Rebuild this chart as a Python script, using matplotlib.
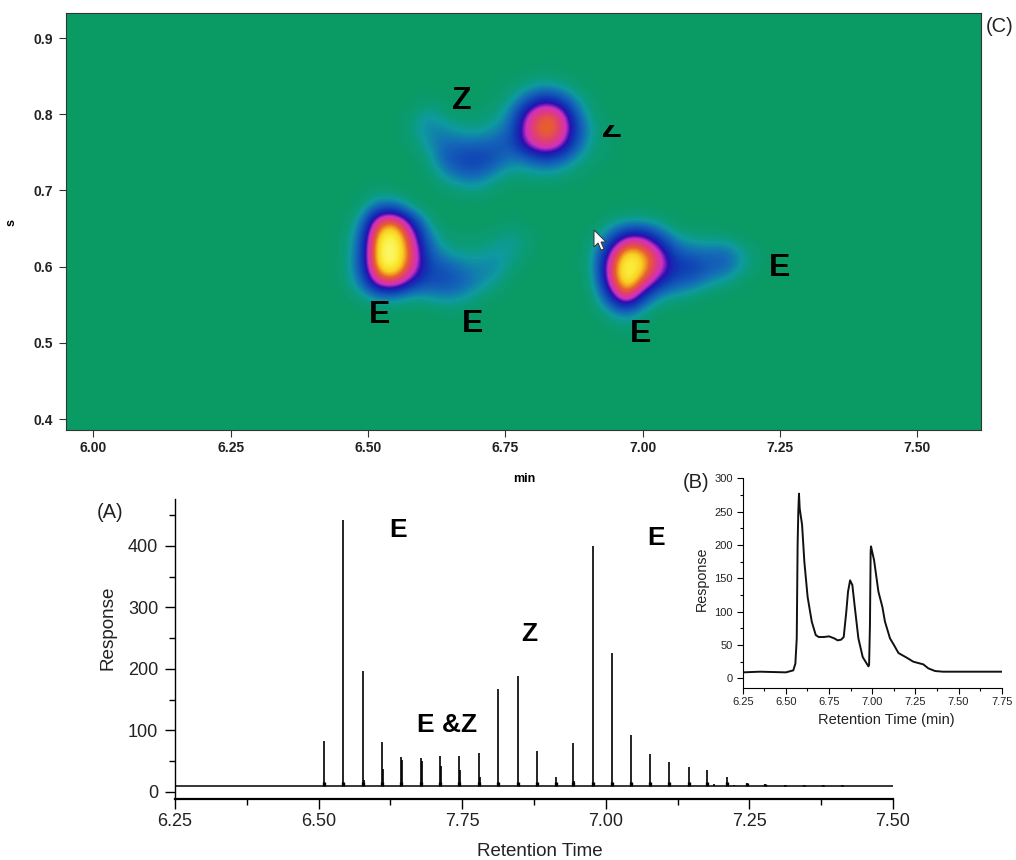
import matplotlib
matplotlib.use("Agg")
import matplotlib.pyplot as plt
import numpy as np
from matplotlib.colors import LinearSegmentedColormap
from matplotlib.patches import Polygon, Rectangle
from matplotlib.ticker import FixedLocator, MultipleLocator

plt.rcParams["font.family"] = ["Liberation Sans", "DejaVu Sans"]

W, H = 1016, 860

# (C) 2D map, read on a coarse grid, intensity in percent
map_times = [6.43, 6.46, 6.49, 6.52, 6.55, 6.58, 6.61, 6.64, 6.67, 6.70, 6.73, 6.76, 6.79, 6.82,
             6.85, 6.88, 6.91, 6.94, 6.97, 7.00, 7.03, 7.06, 7.09, 7.12, 7.15, 7.18, 7.21, 7.24, 7.27, 7.30]
map_s = [0.88, 0.86, 0.84, 0.82, 0.80, 0.78, 0.76, 0.74, 0.72, 0.70, 0.68, 0.66,
         0.64, 0.62, 0.60, 0.58, 0.56, 0.54, 0.52, 0.50, 0.48]
map_values = [
    [0, 0, 0, 0, 0, 0, 0, 0, 0, 0, 0, 0, 0, 0, 0, 0, 0, 0, 0, 0, 0, 0, 0, 0, 0, 0, 0, 0, 0, 0],
    [0, 0, 0, 0, 0, 0, 0, 0, 0, 0, 0, 0, 1, 2, 1, 0, 0, 0, 0, 0, 0, 0, 0, 0, 0, 0, 0, 0, 0, 0],
    [0, 0, 0, 0, 0, 0, 0, 0, 0, 0, 0, 3, 6, 10, 7, 3, 0, 0, 0, 0, 0, 0, 0, 0, 0, 0, 0, 0, 0, 0],
    [0, 0, 0, 0, 0, 0, 3, 0, 0, 0, 2, 8, 25, 42, 32, 12, 2, 0, 0, 0, 0, 0, 0, 0, 0, 0, 0, 0, 0, 0],
    [0, 0, 0, 0, 0, 4, 14, 6, 3, 3, 6, 18, 55, 76, 68, 25, 5, 0, 0, 0, 0, 0, 0, 0, 0, 0, 0, 0, 0, 0],
    [0, 0, 0, 0, 0, 7, 18, 16, 10, 9, 14, 25, 62, 80, 72, 34, 8, 3, 0, 0, 0, 0, 0, 0, 0, 0, 0, 0, 0, 0],
    [0, 0, 0, 0, 0, 3, 13, 24, 24, 24, 27, 28, 52, 68, 58, 26, 6, 3, 0, 0, 0, 0, 0, 0, 0, 0, 0, 0, 0, 0],
    [0, 0, 0, 0, 0, 0, 6, 26, 34, 37, 30, 17, 20, 30, 24, 10, 4, 2, 0, 0, 0, 0, 0, 0, 0, 0, 0, 0, 0, 0],
    [0, 0, 0, 0, 0, 0, 2, 13, 22, 23, 13, 6, 6, 8, 6, 3, 1, 0, 0, 0, 0, 0, 0, 0, 0, 0, 0, 0, 0, 0],
    [0, 0, 1, 4, 2, 0, 0, 3, 6, 8, 3, 1, 0, 0, 0, 0, 0, 0, 0, 0, 0, 0, 0, 0, 0, 0, 0, 0, 0, 0],
    [0, 0, 4, 22, 22, 5, 0, 0, 0, 0, 0, 0, 0, 0, 0, 0, 0, 0, 0, 0, 0, 0, 0, 0, 0, 0, 0, 0, 0, 0],
    [0, 1, 16, 70, 78, 42, 8, 0, 0, 0, 0, 3, 0, 0, 0, 0, 0, 5, 10, 10, 6, 0, 0, 0, 0, 0, 0, 0, 0, 0],
    [0, 3, 26, 92, 98, 62, 20, 5, 3, 3, 6, 10, 6, 0, 0, 0, 4, 22, 50, 52, 30, 12, 6, 6, 4, 0, 0, 0, 0, 0],
    [0, 4, 30, 97, 100, 70, 28, 12, 8, 8, 12, 12, 4, 0, 0, 0, 8, 50, 90, 82, 58, 28, 22, 20, 24, 12, 3, 0, 0, 0],
    [0, 5, 30, 92, 98, 65, 33, 28, 20, 16, 18, 7, 0, 0, 0, 0, 10, 65, 100, 88, 62, 38, 38, 28, 26, 12, 3, 0, 0, 0],
    [0, 4, 22, 65, 70, 42, 30, 32, 26, 18, 10, 2, 0, 0, 0, 0, 6, 60, 98, 72, 42, 28, 24, 14, 8, 2, 0, 0, 0, 0],
    [0, 1, 6, 15, 15, 8, 12, 16, 14, 6, 2, 0, 0, 0, 0, 0, 3, 34, 75, 34, 12, 8, 4, 0, 0, 0, 0, 0, 0, 0],
    [0, 0, 0, 0, 0, 0, 0, 2, 2, 0, 0, 0, 0, 0, 0, 0, 0, 10, 20, 8, 0, 0, 0, 0, 0, 0, 0, 0, 0, 0],
    [0, 0, 0, 0, 0, 0, 0, 0, 0, 0, 0, 0, 0, 0, 0, 0, 0, 2, 4, 1, 0, 0, 0, 0, 0, 0, 0, 0, 0, 0],
    [0, 0, 0, 0, 0, 0, 0, 0, 0, 0, 0, 0, 0, 0, 0, 0, 0, 0, 0, 0, 0, 0, 0, 0, 0, 0, 0, 0, 0, 0],
    [0, 0, 0, 0, 0, 0, 0, 0, 0, 0, 0, 0, 0, 0, 0, 0, 0, 0, 0, 0, 0, 0, 0, 0, 0, 0, 0, 0, 0, 0],
]

# (A) modulated peaks
peak_times = [6.509, 6.543, 6.577, 6.610, 6.643, 6.678, 6.711, 6.745, 6.779, 6.813, 6.847, 6.880, 6.913, 6.943,
              6.977, 7.011, 7.044, 7.077, 7.110, 7.144, 7.177, 7.211, 7.245, 7.278, 7.312, 7.345, 7.378, 7.411]
peak_heights = [83, 442, 196, 82, 57, 56, 58, 59, 64, 168, 189, 66, 25, 80,
                400, 226, 93, 61, 49, 41, 35, 25, 15, 13, 12, 11.5, 11, 11]
shoulder_times = [6.612, 6.645, 6.680, 6.713, 6.747, 6.781, 6.579, 7.189, 7.223, 6.945]
shoulder_heights = [38, 52, 50, 42, 35, 24, 20, 13, 12, 18]
a_baseline = 10
a_range = [6.25, 7.50]
a_x_ticks = [6.25, 6.50, 6.75, 7.00, 7.25, 7.50]
a_x_labels = ["6.25", "6.50", "7.75", "7.00", "7.25", "7.50"]  # 7.75 is how the original reads

# (B) 1D trace
b_times = [6.25, 6.35, 6.50, 6.543, 6.555, 6.563, 6.568, 6.572, 6.576, 6.58, 6.594, 6.607, 6.626, 6.65, 6.673,
           6.69, 6.72, 6.75, 6.78, 6.80, 6.82, 6.835, 6.85, 6.86, 6.872, 6.885, 6.90, 6.92, 6.945,
           6.978, 6.982, 6.987, 6.991, 6.993, 7.011, 7.02, 7.036, 7.059, 7.074, 7.103, 7.126, 7.152, 7.20,
           7.238, 7.296, 7.325, 7.364, 7.41, 7.75]
b_response = [9, 10, 9, 12, 22, 60, 200, 250, 277, 255, 230, 175, 122, 85, 65,
              62, 62, 63, 60, 57, 58, 62, 100, 130, 147, 140, 105, 60, 32,
              18, 20, 80, 190, 198, 177, 160, 130, 107, 85, 60, 50, 38, 31,
              25, 21, 15, 11, 10, 10]

map_colors = [(0.00, "#0a9a64"), (0.06, "#0a9c78"), (0.12, "#0f9aa0"), (0.22, "#1468b8"), (0.36, "#1038b4"),
              (0.46, "#2a10b0"), (0.55, "#d030c0"), (0.66, "#e04070"), (0.74, "#e8602c"), (0.84, "#f8d020"),
              (0.92, "#fbf040"), (1.00, "#fdfd90")]
map_cmap = LinearSegmentedColormap.from_list("map", map_colors)


def box(left, top, right, bottom):
    return [left / W, 1 - bottom / H, (right - left) / W, (bottom - top) / H]


def px(x, y):
    return x / W, 1 - y / H


fig = plt.figure(figsize=(W / 100, H / 100), dpi=100)

# top map
ax_c = fig.add_axes(box(66, 13, 981, 430), facecolor="#0a9a64")
dt = 0.015
ds = 0.01
ax_c.imshow(map_values, cmap=map_cmap, vmin=0, vmax=100, aspect="auto", interpolation="bicubic",
            extent=[map_times[0] - dt, map_times[-1] + dt, map_s[-1] - ds, map_s[0] + ds])
ax_c.set_xlim(5.95, 7.616)
ax_c.set_ylim(0.3856, 0.933)
ax_c.set_xticks([6.00, 6.25, 6.50, 6.75, 7.00, 7.25, 7.50])
ax_c.set_xticklabels(["6.00", "6.25", "6.50", "6.75", "7.00", "7.25", "7.50"])
ax_c.set_yticks([0.4, 0.5, 0.6, 0.7, 0.8, 0.9])
ax_c.tick_params(length=5, width=0.8, color="#333333", labelsize=10, labelcolor="#222222")
ax_c.tick_params(axis="x", pad=3)
ax_c.tick_params(axis="y", pad=4)
for lab in ax_c.get_xticklabels() + ax_c.get_yticklabels():
    lab.set_fontweight("bold")
for sp in ax_c.spines.values():
    sp.set_linewidth(0.8)
    sp.set_color("#333333")

for x, y, s in [(462, 101, "Z"), (380, 315, "E"), (473, 324, "E"), (641, 334, "E"), (780, 268, "E")]:
    fig.text(*px(x, y), s, fontsize=23, fontweight="bold", ha="center", va="center", color="black")

# the Z that is mostly hidden in the original
hidden_z = fig.text(*px(612, 129), "Z", fontsize=23, fontweight="bold", ha="center", va="center", color="black")
clip = Rectangle(px(590, 138), 44 / W, 13 / H, transform=fig.transFigure)
hidden_z.set_clip_path(clip)

cursor = [(594, 230), (594, 247), (598, 243), (601, 250), (604, 249), (601, 242), (606, 242)]
fig.add_artist(Polygon([px(x, y) for x, y in cursor], closed=True, facecolor="white", edgecolor="#333333",
                       linewidth=0.7, transform=fig.transFigure))

fig.text(*px(12, 222), "s", fontsize=9, fontweight="bold", rotation=90, ha="center", va="center")
fig.text(*px(524, 479), "min", fontsize=9, fontweight="bold", ha="center", va="center")
fig.text(*px(1000, 27), "(C)", fontsize=14.5, ha="center", va="center", color="#222222")

# panel A
ax_a = fig.add_axes(box(175, 499, 893, 799), facecolor="none")
ax_a.hlines(a_baseline, a_range[0], a_range[1], color="black", linewidth=1.1)
ax_a.vlines(peak_times, a_baseline, peak_heights, color="black", linewidth=1.2)
ax_a.vlines(peak_times, a_baseline, np.minimum(peak_heights, a_baseline + 6), color="black", linewidth=2.4)
ax_a.vlines(shoulder_times, a_baseline, shoulder_heights, color="black", linewidth=1.2)
ax_a.set_xlim(6.25, 7.50)
ax_a.set_ylim(-11.4, 476)
ax_a.xaxis.set_major_locator(FixedLocator(a_x_ticks))
ax_a.set_xticklabels(a_x_labels)
ax_a.xaxis.set_minor_locator(MultipleLocator(0.125))
ax_a.set_yticks([0, 100, 200, 300, 400])
ax_a.yaxis.set_minor_locator(MultipleLocator(50))
ax_a.tick_params(which="major", length=7, width=1, labelsize=13, pad=5, labelcolor="#222222")
ax_a.tick_params(axis="x", which="major", pad=3)
ax_a.tick_params(which="minor", length=4, width=1)
ax_a.spines["top"].set_visible(False)
ax_a.spines["right"].set_visible(False)
ax_a.spines["left"].set_linewidth(1)
ax_a.spines["bottom"].set_linewidth(1.6)
fig.text(*px(108, 628), "Response", fontsize=13.6, rotation=90, ha="center", va="center", color="#222222")
fig.text(*px(540, 851), "Retention Time", fontsize=13.5, ha="center", va="center", color="#222222")
fig.text(*px(110, 513), "(A)", fontsize=14.5, ha="center", va="center", color="#222222")
for x, y, s in [(398, 530, "E"), (656, 538, "E"), (529, 634, "Z"), (447, 725, "E &Z")]:
    fig.text(*px(x, y), s, fontsize=19, fontweight="bold", ha="center", va="center", color="black")

# panel B
ax_b = fig.add_axes(box(742.7, 478.3, 1001.7, 687.7), facecolor="none")
ax_b.plot(b_times, b_response, color="#111111", linewidth=1.4)
ax_b.set_xlim(6.25, 7.75)
ax_b.set_ylim(-14, 300)
ax_b.set_xticks(np.arange(6.25, 7.76, 0.25))
ax_b.set_xticklabels(["6.25", "6.50", "6.75", "7.00", "7.25", "7.50", "7.75"])
ax_b.set_yticks([0, 50, 100, 150, 200, 250, 300])
ax_b.xaxis.set_minor_locator(MultipleLocator(0.125))
ax_b.yaxis.set_minor_locator(MultipleLocator(25))
ax_b.tick_params(which="major", length=4, width=0.8, labelsize=8, pad=3, labelcolor="#222222")
ax_b.tick_params(which="minor", length=2, width=0.8)
ax_b.spines["top"].set_visible(False)
ax_b.spines["right"].set_visible(False)
fig.text(*px(702, 579), "Response", fontsize=10.3, rotation=90, ha="center", va="center", color="#222222")
fig.text(*px(886, 720), "Retention Time (min)", fontsize=10.5, ha="center", va="center", color="#222222")
fig.text(*px(696, 483), "(B)", fontsize=14.5, ha="center", va="center", color="#222222")

fig.savefig("out.png", dpi=100)
